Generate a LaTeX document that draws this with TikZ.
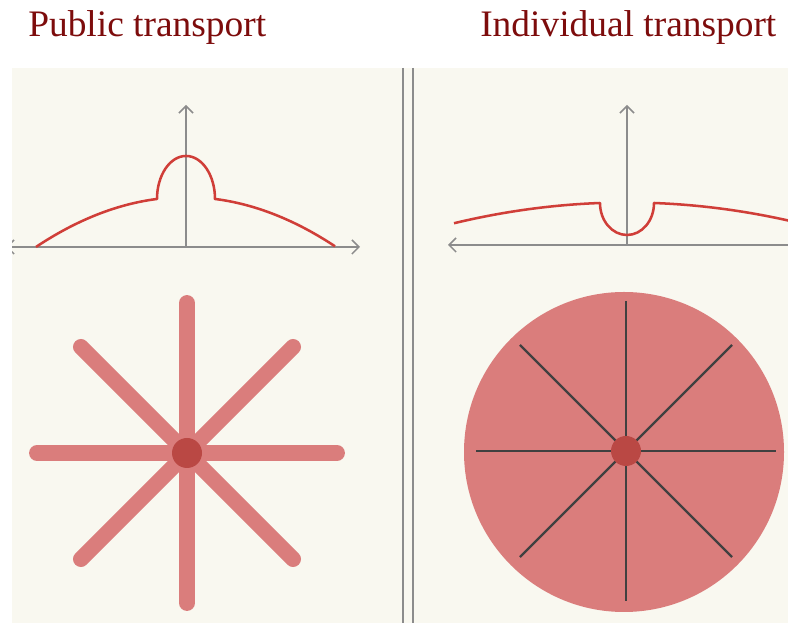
\documentclass[tikz,border=0pt]{standalone}
\usepackage{fontspec}
\setmainfont{Liberation Serif}
\usetikzlibrary{arrows.meta}

\definecolor{paper}{RGB}{249,248,240}
\definecolor{titlered}{RGB}{125,12,12}
\definecolor{curvered}{RGB}{208,62,56}
\definecolor{spokepink}{RGB}{218,125,124}
\definecolor{hubred}{RGB}{186,72,68}
\definecolor{rulegray}{RGB}{140,140,140}

\begin{document}
\begin{tikzpicture}[
    x=0.025cm, y=0.025cm,
    title/.style={anchor=base west, inner sep=0pt, text=titlered, font=\fontsize{26.6}{30}\selectfont},
    axis/.style={draw=rulegray, line width=1.1pt, -{Straight Barb[length=5pt, width=10pt]}},
    curve/.style={draw=curvered, line width=1.8pt, line join=round},
    spoke/.style={draw=spokepink, line width=11.3pt, line cap=round},
    ray/.style={draw=black!75, line width=1.7pt},
    hub/.style={fill=hubred},
    divider/.style={draw=rulegray, line width=1.4pt},
]
\useasboundingbox (0,0) rectangle (788,623);

% Paper
\fill[paper] (12,0) rectangle (788,555);

% Titles
\node[title] (pubtitle) at (28,586) {Public transport};
\node[title] (indtitle) at (480,586) {Individual transport};

\begin{scope}
\clip (12,0) rectangle (788,555);

% Divider
\draw[divider] (403,555) -- (403,0);
\draw[divider] (413,555) -- (413,0);

% Public transport: density profile
\begin{scope}[shift={(186,376)}]
\coordinate (pubO) at (0,0);
\draw[axis, {Straight Barb[length=5pt, width=10pt]}-{Straight Barb[length=5pt, width=10pt]}] (-180,0) -- (174,0);
\draw[axis] (pubO) -- (0,142);
\draw[curve] plot[domain=-150:-29, samples=40] (\x,{49.9-0.2216*(\x/10)^2})
    arc[start angle=180, end angle=0, x radius=29, y radius=43]
    -- plot[domain=29:149, samples=40] (\x,{49.9-0.2216*(\x/10)^2});
\end{scope}

% Individual transport: density profile
\begin{scope}[shift={(627,378)}]
\coordinate (indO) at (0,0);
\draw[axis, {Straight Barb[length=5pt, width=10pt]}-{Straight Barb[length=5pt, width=10pt]}] (-179,0) -- (180,0);
\draw[axis] (indO) -- (0,140);
\draw[curve] plot[domain=-173:-27, samples=40] (\x,{42.5-0.0693*(\x/10)^2})
    arc[start angle=180, end angle=360, x radius=27, y radius=32]
    -- plot[domain=27:170, samples=40] (\x,{42.5-0.0693*(\x/10)^2});
\end{scope}

% Public transport: radial lines
\coordinate (pubhub) at (187,170);
\foreach \a in {0,45,...,315}
    \draw[spoke] (pubhub) -- ++(\a:150);
\fill[hub] (pubhub) circle[radius=15];

% Individual transport: area
\coordinate (indhub) at (626,172);
\fill[spokepink] (624,171) circle[radius=160];
\foreach \a in {0,45,...,315}
    \draw[ray] (indhub) -- ++(\a:150);
\fill[hub] (indhub) circle[radius=15];
\end{scope}

\end{tikzpicture}
\end{document}
